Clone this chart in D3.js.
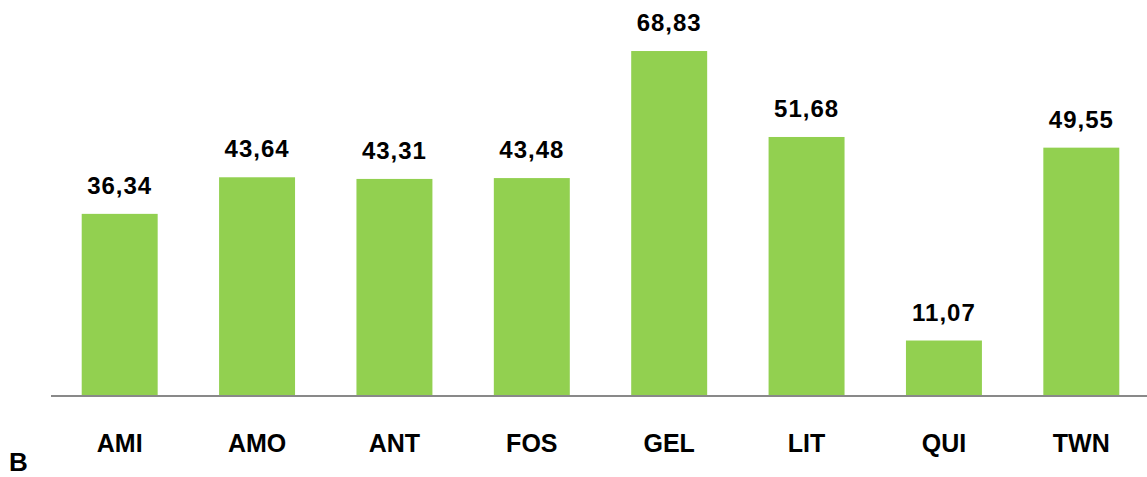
<!DOCTYPE html>
<html>
<head>
<meta charset="utf-8">
<script src="https://cdn.jsdelivr.net/npm/d3@7"></script>
<style>
  body { margin: 0; background: #fff; }
  text { font-family: 'Liberation Sans', Arial, sans-serif; font-weight: bold; }
</style>
</head>
<body>
<div id="chart"></div>
<script>
const categories = ['AMI', 'AMO', 'ANT', 'FOS', 'GEL', 'LIT', 'QUI', 'TWN']
const values = [36.34, 43.64, 43.31, 43.48, 68.83, 51.68, 11.07, 49.55]
const valueLabels = ['36,34', '43,64', '43,31', '43,48', '68,83', '51,68', '11,07', '49,55']

const chartWidth = 1147
const chartHeight = 477
const baseY = 396

const svg = d3.select('#chart')
  .append('svg')
  .attr('width', chartWidth)
  .attr('height', chartHeight)

const x = d3.scaleBand().domain(categories).range([51, 1150]).paddingInner(0.447).paddingOuter(0.2235)
const y = d3.scaleLinear().domain([0, 70]).range([baseY, baseY - 70 * 5.012])

const data = categories.map((c, i) => ({ c, v: values[i], label: valueLabels[i] }))

svg.append('g')
  .selectAll('rect')
  .data(data)
  .enter()
  .append('rect')
  .attr('x', (d) => x(d.c))
  .attr('y', (d) => y(d.v))
  .attr('width', x.bandwidth())
  .attr('height', (d) => y(0) - y(d.v))
  .attr('fill', '#92d050')

// baseline
svg.append('line')
  .attr('x1', 51)
  .attr('x2', chartWidth)
  .attr('y1', y(0))
  .attr('y2', y(0))
  .attr('stroke', '#898989')
  .attr('stroke-width', 2)

svg.append('g')
  .selectAll('text')
  .data(data)
  .enter()
  .append('text')
  .attr('x', (d) => x(d.c) + x.bandwidth() / 2)
  .attr('y', (d) => y(d.v) - 20)
  .attr('text-anchor', 'middle')
  .attr('font-size', 24)
  .attr('letter-spacing', 1)
  .text((d) => d.label)

svg.append('g')
  .selectAll('text')
  .data(categories)
  .enter()
  .append('text')
  .attr('x', (d) => x(d) + x.bandwidth() / 2)
  .attr('y', 452)
  .attr('text-anchor', 'middle')
  .attr('font-size', 25)
  .text((d) => d)

svg.append('text')
  .attr('x', 9)
  .attr('y', 471)
  .attr('font-size', 26)
  .text('B')
</script>
</body>
</html>
